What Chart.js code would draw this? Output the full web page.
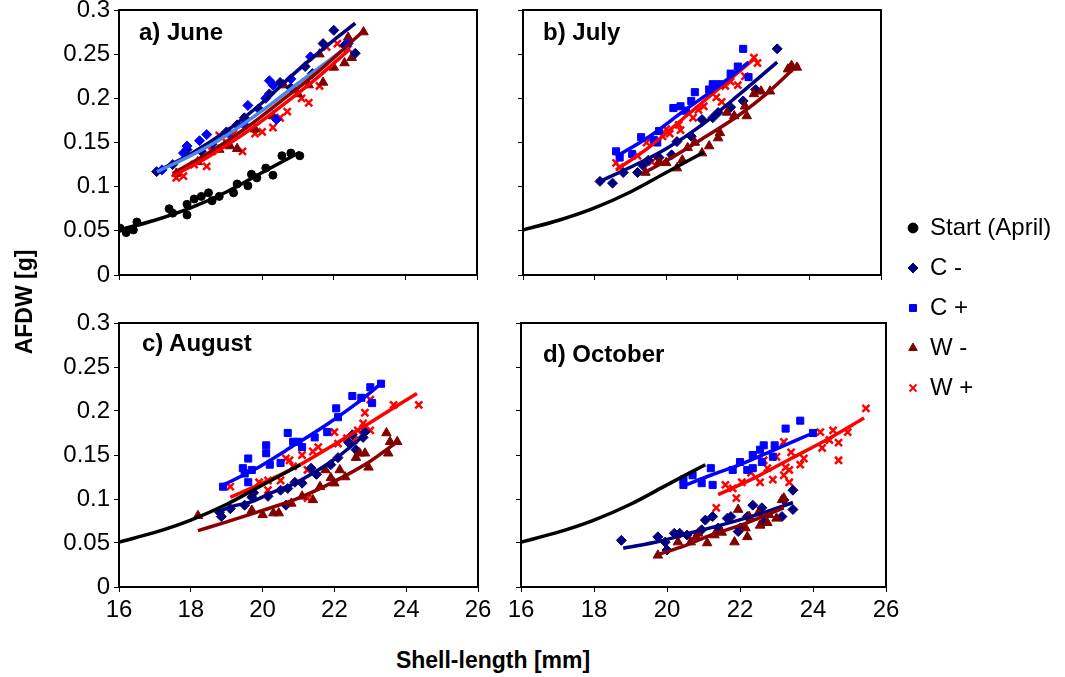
<!DOCTYPE html>
<html lang="en">
<head>
<meta charset="UTF-8">
<title>AFDW vs shell length</title>
<script src="https://cdn.jsdelivr.net/npm/chart.js@4.4.1/dist/chart.umd.min.js"></script>
<style>
  html, body { margin: 0; padding: 0; background: #fff; overflow: hidden; }
  #wrap { position: relative; width: 1065px; height: 677px; overflow: hidden;
          font-family: "Liberation Sans", Arial, sans-serif; color: #000; }
  canvas { position: absolute; }
  .lbl { position: absolute; font-weight: bold; white-space: nowrap; line-height: 1; }
</style>
</head>
<body>
<div id="wrap">
  <canvas id="chartA" width="507" height="325" style="left:0px;top:-20px"></canvas>
  <canvas id="chartB" width="418" height="325" style="left:493px;top:-20px"></canvas>
  <canvas id="chartC" width="508" height="334" style="left:0px;top:293px"></canvas>
  <canvas id="chartD" width="425" height="334" style="left:491px;top:293px"></canvas>
  <canvas id="legend" width="400" height="230" style="left:892px;top:200px"></canvas>

  <div class="lbl" style="left:139px;top:20px;font-size:24px">a) June</div>
  <div class="lbl" style="left:543px;top:20px;font-size:24px">b) July</div>
  <div class="lbl" style="left:142px;top:331px;font-size:24px">c) August</div>
  <div class="lbl" style="left:543px;top:342px;font-size:24px">d) October</div>

  <div class="lbl" style="left:-35px;top:290px;width:120px;height:24px;text-align:center;font-size:23px;transform:rotate(-90deg)">AFDW [g]</div>
  <div class="lbl" style="left:343px;top:649px;width:300px;text-align:center;font-size:23px">Shell-length [mm]</div>
</div>

<script>
// axis ticks
var xTicks = [16, 18, 20, 22, 24, 26];
var yTicks = [0, 0.05, 0.1, 0.15, 0.2, 0.25, 0.3];

// series names (legend)
var seriesNames = ['Start (April)', 'C -', 'C +', 'W -', 'W +'];

// start (April) - points measured in April, fitted curve shown in every panel
var startPts = [[16.03,0.053],[16.2,0.048],[16.4,0.051],[16.5,0.060],[17.4,0.075],[17.5,0.070],[17.9,0.068],[17.9,0.080],
  [18.1,0.086],[18.3,0.089],[18.5,0.093],[18.6,0.084],[18.8,0.089],[19.2,0.093],[19.3,0.103],[19.6,0.101],[19.7,0.114],
  [19.85,0.110],[20.1,0.121],[20.3,0.113],[20.55,0.135],[20.8,0.138],[21.05,0.135]];
var startFit = [[16,0.051],[17,0.062],[18,0.076],[19,0.094],[20,0.116],[21.05,0.139]];

// a) June
var juneCm = [[17.05,0.117],[17.5,0.125],[17.9,0.142],[18.3,0.140],[18.6,0.148],[19.0,0.162],[19.3,0.170],[19.5,0.178],
  [19.9,0.188],[20.2,0.205],[20.5,0.218],[20.8,0.212],[21.2,0.236],[21.4,0.228],[21.7,0.262],[22.0,0.277],[22.3,0.260],[22.6,0.251]];
var juneCp = [[17.2,0.119],[17.8,0.138],[17.9,0.146],[18.25,0.152],[18.45,0.159],[19.05,0.161],[19.5,0.170],[19.6,0.192],
  [20.1,0.200],[20.2,0.220],[20.3,0.215],[20.4,0.176],[20.8,0.222],[21.35,0.247],[22.4,0.262]];
var juneWm = [[17.6,0.115],[18.2,0.128],[18.8,0.142],[19.1,0.146],[19.3,0.143],[19.8,0.165],[20.3,0.180],[20.6,0.215],
  [21.0,0.205],[21.3,0.215],[21.6,0.250],[21.7,0.218],[22.0,0.235],[22.3,0.240],[22.4,0.269],[22.5,0.246],[22.83,0.275]];
var juneWp = [[17.6,0.110],[17.8,0.112],[18.1,0.125],[18.45,0.123],[18.6,0.140],[18.8,0.158],[19.0,0.150],[19.2,0.160],
  [19.45,0.140],[19.8,0.160],[20.0,0.162],[20.3,0.167],[20.5,0.178],[20.7,0.185],[21.1,0.200],[21.3,0.195],[21.6,0.214],
  [21.8,0.258],[22.1,0.262],[22.4,0.256]];
var juneCmFit = [[17.05,0.117],[18,0.137],[19,0.163],[20,0.195],[21,0.232],[22,0.266],[22.6,0.285]];
var juneCpFit = [[17.06,0.117],[18,0.135],[19,0.158],[20,0.186],[21,0.217],[22.4,0.259]];
var juneWmFit = [[17.5,0.115],[18.5,0.138],[19.5,0.165],[20.5,0.196],[21.5,0.228],[22.85,0.277]];
var juneWpFit = [[17.5,0.112],[18.5,0.134],[19.5,0.160],[20.5,0.190],[21.5,0.222],[22.4,0.254]];

// b) July
var julyCm = [[18.15,0.106],[18.5,0.104],[18.8,0.116],[19.2,0.116],[19.35,0.124],[19.5,0.130],[19.8,0.133],[20.15,0.136],
  [20.3,0.151],[20.7,0.157],[21.0,0.176],[21.3,0.178],[21.45,0.184],[21.8,0.190],[22.15,0.197],[22.5,0.210],[23.1,0.256]];
var julyCp = [[18.6,0.140],[18.7,0.133],[19.05,0.137],[19.3,0.156],[19.65,0.153],[19.75,0.150],[19.8,0.163],[20.2,0.189],
  [20.4,0.191],[20.55,0.186],[20.7,0.197],[20.8,0.207],[21.2,0.210],[21.3,0.216],[21.5,0.216],[21.8,0.228],[22.0,0.236],
  [22.15,0.256],[22.3,0.224]];
var julyWm = [[19.42,0.116],[19.8,0.128],[20.0,0.127],[20.3,0.121],[20.45,0.130],[20.6,0.144],[20.8,0.150],[21.0,0.138],
  [21.2,0.146],[21.45,0.155],[21.5,0.161],[21.7,0.184],[21.9,0.180],[22.25,0.180],[22.2,0.191],[22.45,0.205],[22.65,0.208],
  [22.9,0.208],[23.4,0.233],[23.5,0.237],[23.65,0.235]];
var julyWp = [[18.6,0.127],[18.7,0.122],[19.2,0.135],[19.45,0.150],[19.6,0.128],[19.9,0.157],[20.0,0.165],[20.1,0.160],
  [20.35,0.170],[20.4,0.164],[20.75,0.178],[20.9,0.187],[21.05,0.191],[21.4,0.201],[21.55,0.196],[21.65,0.214],[21.8,0.219],
  [22.0,0.215],[22.2,0.225],[22.45,0.246],[22.55,0.240]];
var julyCmFit = [[18.15,0.106],[19,0.122],[20,0.143],[21,0.170],[22,0.203],[23.1,0.241]];
var julyCpFit = [[18.6,0.134],[19.5,0.156],[20.5,0.186],[21.5,0.215],[22.3,0.241]];
var julyWmFit = [[19.4,0.116],[20.2,0.134],[21,0.154],[22,0.180],[22.8,0.205],[23.7,0.239]];
var julyWpFit = [[18.6,0.119],[19.5,0.144],[20.5,0.178],[21.5,0.212],[22.5,0.246]];

// c) August
var augCm = [[18.8,0.085],[18.85,0.080],[19.1,0.089],[19.5,0.093],[19.7,0.102],[19.75,0.107],[20.15,0.103],[20.5,0.110],
  [20.65,0.093],[20.7,0.112],[20.9,0.119],[21.1,0.118],[21.35,0.135],[21.5,0.128],[21.9,0.139],[22.1,0.147],[22.4,0.164],
  [22.5,0.173],[22.6,0.156],[22.8,0.170],[22.85,0.176]];
var augCp = [[18.9,0.114],[19.45,0.135],[19.5,0.129],[19.6,0.146],[19.6,0.119],[19.7,0.133],[20.1,0.152],[20.2,0.139],
  [20.5,0.141],[20.1,0.161],[20.7,0.175],[20.85,0.165],[21.0,0.165],[21.1,0.159],[21.45,0.170],[21.8,0.176],[22.05,0.203],
  [22.1,0.193],[22.5,0.217],[22.75,0.215],[23.0,0.227],[23.05,0.209],[23.3,0.231]];
var augWm = [[18.2,0.081],[19.7,0.087],[20.0,0.082],[20.3,0.084],[20.45,0.084],[20.8,0.095],[21.1,0.103],[21.4,0.099],
  [21.6,0.114],[21.75,0.133],[21.9,0.124],[22.0,0.118],[22.15,0.133],[22.3,0.125],[22.6,0.147],[22.7,0.152],[22.85,0.152],
  [22.95,0.136],[23.45,0.175],[23.5,0.152],[23.55,0.165],[23.75,0.165]];
var augWp = [[19.1,0.114],[19.9,0.119],[20.15,0.121],[20.15,0.110],[20.5,0.121],[20.65,0.146],[20.75,0.144],[20.85,0.137],
  [21.1,0.150],[21.25,0.133],[21.25,0.101],[21.4,0.154],[21.55,0.159],[21.85,0.176],[22.0,0.176],[22.1,0.163],[22.35,0.169],
  [22.55,0.167],[22.65,0.178],[22.8,0.186],[22.85,0.198],[23.0,0.213],[23.0,0.178],[23.65,0.207],[24.35,0.207]];
var augCmFit = [[18.75,0.085],[19.1,0.091],[19.7,0.097],[20.25,0.107],[20.8,0.116],[21.55,0.133],[22.1,0.148],[22.85,0.173]];
var augCpFit = [[18.8,0.114],[19.8,0.134],[20.8,0.159],[21.8,0.185],[22.6,0.208],[23.3,0.231]];
var augWmFit = [[18.2,0.064],[19,0.074],[20,0.087],[21,0.101],[22,0.120],[23,0.143],[23.75,0.165]];
var augWpFit = [[19.1,0.102],[20,0.118],[21,0.138],[22,0.162],[23,0.187],[24.3,0.220]];

// d) October
var octCm = [[18.75,0.053],[19.75,0.057],[19.95,0.051],[20.0,0.042],[20.2,0.061],[20.35,0.061],[20.55,0.059],[20.95,0.065],
  [21.05,0.076],[21.25,0.080],[21.4,0.067],[21.65,0.078],[21.75,0.080],[21.95,0.063],[22.0,0.067],[22.2,0.080],[22.35,0.093],
  [22.6,0.090],[22.65,0.074],[23.15,0.080],[23.2,0.099],[23.45,0.110],[23.45,0.088]];
var octCp = [[20.45,0.116],[20.45,0.122],[20.7,0.127],[20.95,0.118],[21.2,0.135],[21.25,0.116],[21.8,0.133],[22.0,0.142],
  [22.2,0.133],[22.35,0.135],[22.35,0.150],[22.55,0.156],[22.65,0.161],[22.6,0.142],[22.9,0.148],[22.95,0.161],[23.25,0.180],
  [23.65,0.189],[24.0,0.175]];
var octWm = [[19.75,0.036],[20.3,0.051],[20.65,0.051],[20.8,0.057],[20.85,0.061],[21.1,0.050],[21.3,0.059],[21.5,0.062],
  [21.85,0.051],[21.95,0.088],[22.15,0.067],[22.2,0.057],[22.25,0.080],[22.5,0.084],[22.55,0.070],[22.75,0.073],[22.8,0.082],
  [23.0,0.078],[23.15,0.099],[23.2,0.101]];
var octWp = [[21.35,0.090],[21.6,0.116],[21.8,0.112],[21.9,0.101],[22.05,0.119],[22.3,0.130],[22.55,0.119],[22.65,0.144],
  [22.75,0.135],[22.9,0.122],[23.0,0.148],[23.2,0.165],[23.2,0.127],[23.25,0.136],[23.35,0.133],[23.35,0.119],[23.4,0.153],
  [23.65,0.139],[23.75,0.146],[24.2,0.176],[24.25,0.158],[24.45,0.167],[24.55,0.178],[24.7,0.164],[24.7,0.144],[24.95,0.176],
  [25.45,0.203]];
var octCmFit = [[18.8,0.044],[19.8,0.052],[20.8,0.063],[21.8,0.074],[22.6,0.084],[23.45,0.096]];
var octCpFit = [[20.45,0.115],[21.2,0.127],[22,0.139],[23,0.157],[24,0.175]];
var octWmFit = [[19.75,0.037],[20.5,0.047],[21.2,0.059],[22,0.070],[23.2,0.090]];
var octWpFit = [[21.4,0.105],[22.4,0.124],[23.4,0.146],[24.4,0.168],[25.4,0.192]];

// ---- styles ----
var FONT = '"Liberation Sans", Arial, sans-serif';
var sty = {
  start: { shape: 'circle',    r: 4,   color: '#000000', line: '#000000' },
  cm:    { shape: 'rectRot',   r: 5,   color: '#000080', line: '#000080' },
  cp:    { shape: 'rect',      r: 5,   color: '#0000FF', line: '#0000FF' },
  wm:    { shape: 'triangle',  r: 5.5, color: '#800000', line: '#8B0000' },
  wp:    { shape: 'crossRot',  r: 5,   color: '#FF0000', line: '#FF0000' }
};
var juneCpLine = '#4A86E8';

function xy(arr) {
  return arr.map(function (p) { return { x: p[0], y: p[1] }; });
}
function pts(arr, s, shape) {
  return {
    data: xy(arr), showLine: false, order: 1,
    pointStyle: shape || s.shape, pointRadius: s.r,
    backgroundColor: s.color, borderColor: s.color,
    pointBorderWidth: s.shape == 'crossRot' ? 2.5 : 1
  };
}
function fit(arr, color) {
  return {
    data: xy(arr), showLine: true, order: 0, pointRadius: 0,
    borderColor: color, borderWidth: 3.5, fill: false,
    cubicInterpolationMode: 'monotone'
  };
}

var framePlugin = {
  id: 'frame',
  afterDatasetsDraw: function (chart) {
    var a = chart.chartArea, ctx = chart.ctx;
    ctx.save();
    ctx.strokeStyle = '#000';
    ctx.lineWidth = 2;
    ctx.strokeRect(a.left, a.top, a.right - a.left, a.bottom - a.top);
    ctx.restore();
  }
};

function scales(showX, showY, xh, yw) {
  return {
    x: {
      type: 'linear', min: 16, max: 26,
      afterBuildTicks: function (s) { s.ticks = xTicks.map(function (v) { return { value: v }; }); },
      afterFit: function (s) { s.height = xh; },
      grid: { drawOnChartArea: false, drawTicks: true, tickLength: 5, color: '#000', lineWidth: 1 },
      border: { color: '#000', width: 2 },
      ticks: { display: showX, color: '#000', padding: 4, maxRotation: 0, autoSkip: false,
               font: { family: FONT, size: 24 } }
    },
    y: {
      type: 'linear', min: 0, max: 0.3,
      afterBuildTicks: function (s) { s.ticks = yTicks.map(function (v) { return { value: v }; }); },
      afterFit: function (s) { s.width = yw; },
      grid: { drawOnChartArea: false, drawTicks: true, tickLength: 5, color: '#000', lineWidth: 1 },
      border: { color: '#000', width: 2 },
      ticks: { display: showY, color: '#000', padding: 4, autoSkip: false,
               font: { family: FONT, size: 24 },
               callback: function (v) { return String(+v.toFixed(2)); } }
    }
  };
}

function panel(id, datasets, showX, showY, xh, yw) {
  return new Chart(document.getElementById(id), {
    type: 'scatter',
    data: { datasets: datasets },
    options: {
      responsive: false, animation: false, events: [],
      layout: { padding: { top: 30, right: 30, bottom: 0, left: 0 } },
      plugins: { legend: { display: false }, tooltip: { enabled: false } },
      scales: scales(showX, showY, xh, yw)
    },
    plugins: [framePlugin]
  });
}

panel('chartA', [
  pts(startPts, sty.start), pts(juneCp, sty.cp, 'rectRot'), pts(juneCm, sty.cm), pts(juneWm, sty.wm), pts(juneWp, sty.wp),
  fit(startFit, sty.start.line), fit(juneWpFit, sty.wp.line), fit(juneWmFit, sty.wm.line),
  fit(juneCpFit, juneCpLine), fit(juneCmFit, sty.cm.line)
], false, true, 30, 119);

panel('chartB', [
  pts(julyWm, sty.wm), pts(julyCm, sty.cm), pts(julyCp, sty.cp), pts(julyWp, sty.wp),
  fit(startFit, sty.start.line), fit(julyWmFit, sty.wm.line), fit(julyCmFit, sty.cm.line),
  fit(julyCpFit, sty.cp.line), fit(julyWpFit, sty.wp.line)
], false, false, 30, 30);

panel('chartC', [
  pts(augWm, sty.wm), pts(augCm, sty.cm), pts(augCp, sty.cp), pts(augWp, sty.wp),
  fit(startFit, sty.start.line), fit(augWmFit, sty.wm.line), fit(augCmFit, sty.cm.line),
  fit(augCpFit, sty.cp.line), fit(augWpFit, sty.wp.line)
], true, true, 40, 119);

panel('chartD', [
  pts(octWm, sty.wm), pts(octCm, sty.cm), pts(octCp, sty.cp), pts(octWp, sty.wp),
  fit(startFit, sty.start.line), fit(octWmFit, sty.wm.line), fit(octCmFit, sty.cm.line),
  fit(octCpFit, sty.cp.line), fit(octWpFit, sty.wp.line)
], true, false, 40, 30);

// legend: empty datasets, only the Chart.js legend is shown
var legendStyles = [sty.start, sty.cm, sty.cp, sty.wm, sty.wp];
new Chart(document.getElementById('legend'), {
  type: 'scatter',
  data: {
    datasets: seriesNames.map(function (name, i) {
      var s = legendStyles[i];
      return { label: name, data: [], pointStyle: s.shape, backgroundColor: s.color, borderColor: s.color,
               borderWidth: s.shape == 'crossRot' ? 2 : 1 };
    })
  },
  options: {
    responsive: false, animation: false, events: [],
    scales: { x: { display: false }, y: { display: false } },
    plugins: {
      tooltip: { enabled: false },
      legend: {
        position: 'left', align: 'start',
        labels: { usePointStyle: true, boxWidth: 10, boxHeight: 7, padding: 16, color: '#000',
                  font: { family: FONT, size: 24 } }
      }
    }
  }
});
</script>
</body>
</html>
